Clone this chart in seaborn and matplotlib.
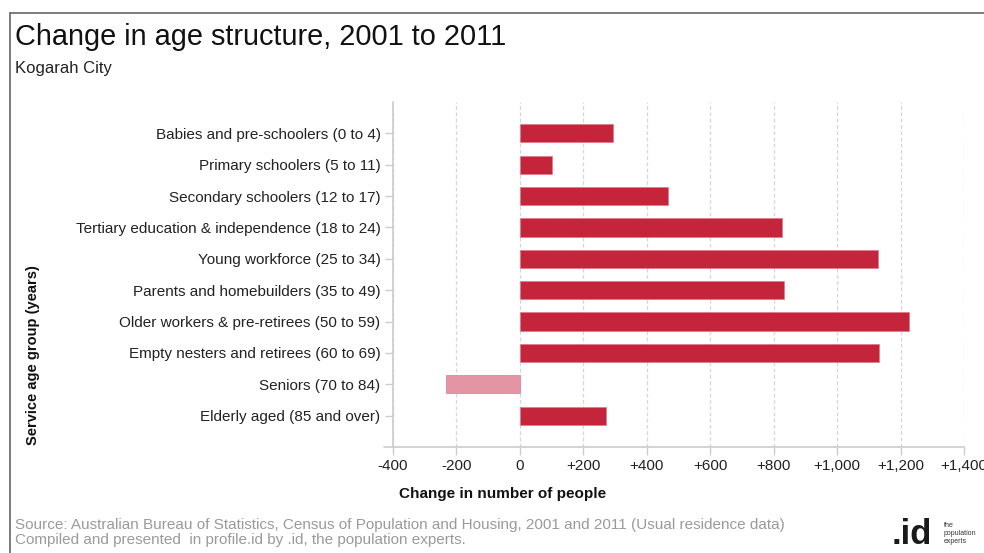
import matplotlib
matplotlib.use("Agg")
import matplotlib.pyplot as plt
from matplotlib.lines import Line2D
from matplotlib.ticker import FuncFormatter, MultipleLocator
import seaborn as sns
import pandas as pd

age_groups = [
    "Babies and pre-schoolers (0 to 4)",
    "Primary schoolers (5 to 11)",
    "Secondary schoolers (12 to 17)",
    "Tertiary education & independence (18 to 24)",
    "Young workforce (25 to 34)",
    "Parents and homebuilders (35 to 49)",
    "Older workers & pre-retirees (50 to 59)",
    "Empty nesters and retirees (60 to 69)",
    "Seniors (70 to 84)",
    "Elderly aged (85 and over)",
]
change = [292, 100, 466, 827, 1129, 832, 1226, 1133, -234, 271]

POS_COLOR = "#C4253A"
NEG_COLOR = "#E495A5"

df = pd.DataFrame({"group": age_groups, "change": change})
palette = {g: (POS_COLOR if v >= 0 else NEG_COLOR) for g, v in zip(age_groups, change)}

sns.set_theme(style="white")
plt.rcParams["font.family"] = ["Liberation Sans", "DejaVu Sans"]

fig = plt.figure(figsize=(9.84, 5.53), dpi=100)
ax = fig.add_axes([393 / 984, 1 - 447 / 553, (964 - 393) / 984, (447 - 102) / 553])

sns.barplot(data=df, x="change", y="group", hue="group", palette=palette,
            orient="h", width=0.58, saturation=1, legend=False, ax=ax,
            edgecolor="#E07A8A", linewidth=0.5, zorder=3)

ax.set_xlim(-400, 1400)
ax.set_ylim(len(age_groups) - 0.0, -1.0)
ax.xaxis.set_major_locator(MultipleLocator(200))
ax.xaxis.set_major_formatter(FuncFormatter(
    lambda v, p: "0" if v == 0 else (f"+{v:,.0f}" if v > 0 else f"{v:,.0f}")))

ax.grid(axis="x", color="#D6D6D6", linestyle=(0, (3, 2)), linewidth=0.9, zorder=0)
ax.grid(axis="y", visible=False)
for s in ["top", "right"]:
    ax.spines[s].set_visible(False)
for s in ["left", "bottom"]:
    ax.spines[s].set_color("#CCCCCC")
    ax.spines[s].set_linewidth(1.2)

ax.tick_params(axis="both", which="major", length=6, width=1, color="#CCCCCC",
               labelsize=11, labelcolor="#222222", direction="out", bottom=True, left=True)
ax.tick_params(axis="x", pad=3)
ax.tick_params(axis="y", pad=3)

# short extension of the bottom axis line to the left
ax.add_line(Line2D([-0.016, 0.0], [0, 0], transform=ax.transAxes, color="#CCCCCC",
                   linewidth=1.2, clip_on=False))

ax.set_xlabel("")
ax.set_ylabel("")
fig.text(503 / 984, 1 - 494 / 553, "Change in number of people", ha="center",
         va="center", fontsize=11, fontweight="bold", color="#111111")
fig.text(33 / 984, 1 - 355 / 553, "Service age group (years)", rotation=90,
         ha="center", va="center", fontsize=10.5, fontweight="bold", color="#111111")

# titles
fig.text(15 / 984, 1 - 37 / 553, "Change in age structure, 2001 to 2011",
         ha="left", va="center", fontsize=20.8, color="#111111")
fig.text(15 / 984, 1 - 68 / 553, "Kogarah City", ha="left", va="center",
         fontsize=12, color="#222222")

# source notes
fig.text(15 / 984, 1 - 525 / 553,
         "Source: Australian Bureau of Statistics, Census of Population and Housing, 2001 and 2011 (Usual residence data)",
         ha="left", va="center", fontsize=11, color="#9A9A9A")
fig.text(15 / 984, 1 - 540 / 553,
         "Compiled and presented  in profile.id by .id, the population experts.",
         ha="left", va="center", fontsize=11, color="#9A9A9A")

# logo
fig.text(892 / 984, 1 - 535 / 553, ".id", ha="left", va="center", fontsize=25,
         fontweight="bold", color="#1A1A1A")
fig.text(944 / 984, 1 - 522 / 553, "the\npopulation\nexperts", ha="left", va="top",
         fontsize=5, color="#333333", linespacing=1.2)

# outer frame
fig.add_artist(Line2D([10 / 984, 1.0], [1 - 13 / 553, 1 - 13 / 553],
                      transform=fig.transFigure, color="#666666", linewidth=1.2))
fig.add_artist(Line2D([10 / 984, 10 / 984], [1 - 13 / 553, 0.0],
                      transform=fig.transFigure, color="#666666", linewidth=1.2))

fig.savefig("out.png", dpi=100)
